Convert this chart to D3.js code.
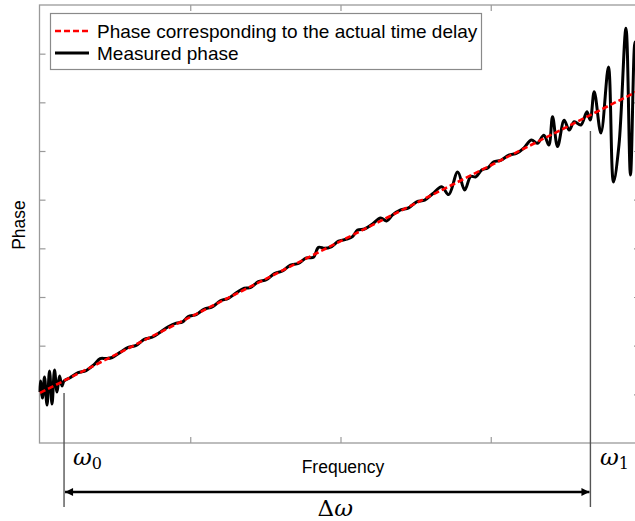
<!DOCTYPE html>
<html>
<head>
<meta charset="utf-8">
<script src="https://cdn.jsdelivr.net/npm/d3@7"></script>
<style>
  html, body { margin: 0; padding: 0; background: #fff; }
  svg { display: block; }
  text { font-family: "Liberation Sans", Arial, sans-serif; }
</style>
</head>
<body>
<svg id="chart" width="635" height="521"></svg>
<script>
// ---------------- data ----------------
const xDomain = [0, 600];            // frequency (arbitrary units)
const yDomain = [0, 9];              // phase (arbitrary units)
const xTicks = [150, 300, 450];
const yTicks = [1, 2, 3, 4, 5, 6, 7, 8];

// Phase corresponding to the actual time delay (linear)
const idealFreq  = [0, 600];
const idealPhase = [1.03, 7.264];

// Measured phase
const measFreq = [0, 0.5, 2.5, 4.5, 7, 9.5, 12, 14.5, 17, 19.5, 22, 24, 30, 38, 46, 54, 60, 66, 72, 80,
  88, 96, 104, 112, 120, 128, 136, 142, 148, 156, 164, 172, 180, 188, 196, 204, 210, 218, 226, 234,
  242, 250, 258, 266, 273, 278, 284, 290, 298, 306, 312, 317, 324, 332, 340, 346, 352, 360, 368, 376,
  384, 392, 401, 408, 417, 424, 430, 435, 441, 447, 453, 460, 468, 476, 483, 490.5, 496.5, 503, 508, 511.7,
  516.7, 523.3, 528.3, 533.3, 540, 546, 549.3, 553.3, 560, 567.5, 572.5, 578, 585, 589.5, 594, 600];
const measPhase = [1.048, 1.274, 0.925, 1.356, 0.781, 1.479, 0.801, 1.500, 1.048, 1.377, 1.171, 1.274, 1.342, 1.444, 1.488, 1.611, 1.734, 1.736, 1.757, 1.862,
  1.964, 2.007, 2.131, 2.174, 2.277, 2.390, 2.464, 2.484, 2.597, 2.640, 2.753, 2.796, 2.920, 2.973, 3.086, 3.181, 3.191, 3.314, 3.357, 3.481,
  3.534, 3.657, 3.690, 3.803, 3.816, 4.021, 4.001, 4.023, 4.146, 4.188, 4.241, 4.374, 4.397, 4.500, 4.623, 4.563, 4.687, 4.790, 4.833, 4.956,
  4.989, 5.122, 5.266, 5.104, 5.566, 5.198, 5.476, 5.468, 5.611, 5.652, 5.778, 5.809, 5.913, 5.955, 6.059, 6.228, 6.158, 6.326, 6.123, 6.704,
  6.090, 6.631, 6.431, 6.602, 6.534, 6.807, 6.637, 7.218, 6.370, 7.726, 5.363, 6.123, 8.521, 5.507, 8.239, 6.020];

// band markers
const omega0 = 24, omega0Phase = 1.027;
const omega1 = 549.5, omega1Phase = 6.411;

const legendLabels = ["Phase corresponding to the actual time delay", "Measured phase"];
const xLabel = "Frequency", yLabel = "Phase";

// ---------------- layout ----------------
const W = 635, H = 521;
const plot = { left: 39.5, right: 641, top: 5, bottom: 443 };
const svg = d3.select("#chart");

const x = d3.scaleLinear().domain(xDomain).range([plot.left + 0.5, plot.right]);
const y = d3.scaleLinear().domain(yDomain).range([plot.bottom, plot.top]);

const axisColor = "#9a9a9a";

// frame
svg.append("rect")
  .attr("x", plot.left).attr("y", plot.top)
  .attr("width", plot.right - plot.left).attr("height", plot.bottom - plot.top)
  .attr("fill", "none").attr("stroke", axisColor).attr("stroke-width", 1.3);

// axes (inward ticks, no labels)
function styleAxis(g) {
  g.select(".domain").remove();
  g.selectAll(".tick line").attr("stroke", axisColor).attr("stroke-width", 1.2);
  g.selectAll(".tick text").remove();
}
svg.append("g").attr("transform", `translate(0,${plot.bottom})`)
  .call(d3.axisBottom(x).tickValues(xTicks).tickSize(-6)).call(styleAxis);
svg.append("g").attr("transform", `translate(0,${plot.top})`)
  .call(d3.axisTop(x).tickValues(xTicks).tickSize(-6)).call(styleAxis);
svg.append("g").attr("transform", `translate(${plot.left},0)`)
  .call(d3.axisLeft(y).tickValues(yTicks).tickSize(-6)).call(styleAxis);
svg.append("g").attr("transform", `translate(${plot.right},0)`)
  .call(d3.axisRight(y).tickValues(yTicks).tickSize(-7)).call(styleAxis);

// clip
svg.append("clipPath").attr("id", "clip").append("rect")
  .attr("x", plot.left - 3).attr("y", plot.top)
  .attr("width", plot.right - plot.left + 3).attr("height", plot.bottom - plot.top);

// marker lines (omega0, omega1)
const markerBottom = 507;
[[omega0, omega0Phase], [omega1, omega1Phase]].forEach(([f, p]) => {
  svg.append("line")
    .attr("x1", x(f)).attr("x2", x(f))
    .attr("y1", y(p)).attr("y2", markerBottom)
    .attr("stroke", "#555").attr("stroke-width", 1.4);
});

// measured phase
const meas = measFreq.map((f, i) => [f, measPhase[i]]);
const line = d3.line().x(d => x(d[0])).y(d => y(d[1])).curve(d3.curveCatmullRom.alpha(0.5));
svg.append("path").datum(meas)
  .attr("clip-path", "url(#clip)")
  .attr("d", line)
  .attr("fill", "none").attr("stroke", "#000").attr("stroke-width", 3)
  .attr("stroke-linejoin", "round");

// ideal phase
const ideal = idealFreq.map((f, i) => [f, idealPhase[i]]);
svg.append("path").datum(ideal)
  .attr("clip-path", "url(#clip)")
  .attr("d", d3.line().x(d => x(d[0])).y(d => y(d[1])))
  .attr("fill", "none").attr("stroke", "#ff0000").attr("stroke-width", 2.6)
  .attr("stroke-dasharray", "6,3");

// legend
const lg = svg.append("g");
lg.append("rect").attr("x", 50.5).attr("y", 13.5).attr("width", 431).attr("height", 56)
  .attr("fill", "#fff").attr("stroke", "#8a8a8a").attr("stroke-width", 1.2);
lg.append("line").attr("x1", 55).attr("x2", 89).attr("y1", 31).attr("y2", 31)
  .attr("stroke", "#ff0000").attr("stroke-width", 2.6).attr("stroke-dasharray", "6,3");
lg.append("line").attr("x1", 55).attr("x2", 89).attr("y1", 53).attr("y2", 53)
  .attr("stroke", "#000").attr("stroke-width", 3);
lg.append("text").attr("x", 97).attr("y", 37.5).attr("font-size", 19).text(legendLabels[0]);
lg.append("text").attr("x", 97).attr("y", 60).attr("font-size", 19).text(legendLabels[1]);

// axis labels
svg.append("text").attr("x", 343).attr("y", 473).attr("text-anchor", "middle")
  .attr("font-size", 17.5).text(xLabel);
svg.append("text").attr("transform", "translate(25,225) rotate(-90)").attr("text-anchor", "middle")
  .attr("font-size", 17.5).text(yLabel);

// omega labels
function omegaLabel(xp, yp, sub) {
  const t = svg.append("text").attr("x", xp).attr("y", yp)
    .style("font-family", "'DejaVu Serif', 'Liberation Serif', serif");
  t.append("tspan").attr("font-style", "italic").attr("font-size", 23).text("ω");
  t.append("tspan").attr("font-size", 16).attr("dy", 4).text(sub);
}
omegaLabel(73, 465, "0");
omegaLabel(600, 465, "1");

// Delta omega arrow
const arrowY = 492;
const defs = svg.append("defs");
defs.append("marker").attr("id", "ah").attr("viewBox", "0 0 10 10")
  .attr("refX", 10).attr("refY", 5).attr("markerWidth", 11).attr("markerHeight", 8)
  .attr("markerUnits", "userSpaceOnUse").attr("orient", "auto-start-reverse")
  .append("path").attr("d", "M0,0 L10,5 L0,10 Z").attr("fill", "#000");
svg.append("line")
  .attr("x1", x(omega0) + 1).attr("x2", x(omega1) - 1)
  .attr("y1", arrowY).attr("y2", arrowY)
  .attr("stroke", "#000").attr("stroke-width", 2.6)
  .attr("marker-start", "url(#ah)").attr("marker-end", "url(#ah)");

const dl = svg.append("text").attr("x", (x(omega0) + x(omega1)) / 2 + 8).attr("y", 516)
  .attr("text-anchor", "middle")
  .style("font-family", "'DejaVu Serif', 'Liberation Serif', serif").attr("font-size", 23);
dl.append("tspan").text("Δ");
dl.append("tspan").attr("font-style", "italic").text("ω");
</script>
</body>
</html>
